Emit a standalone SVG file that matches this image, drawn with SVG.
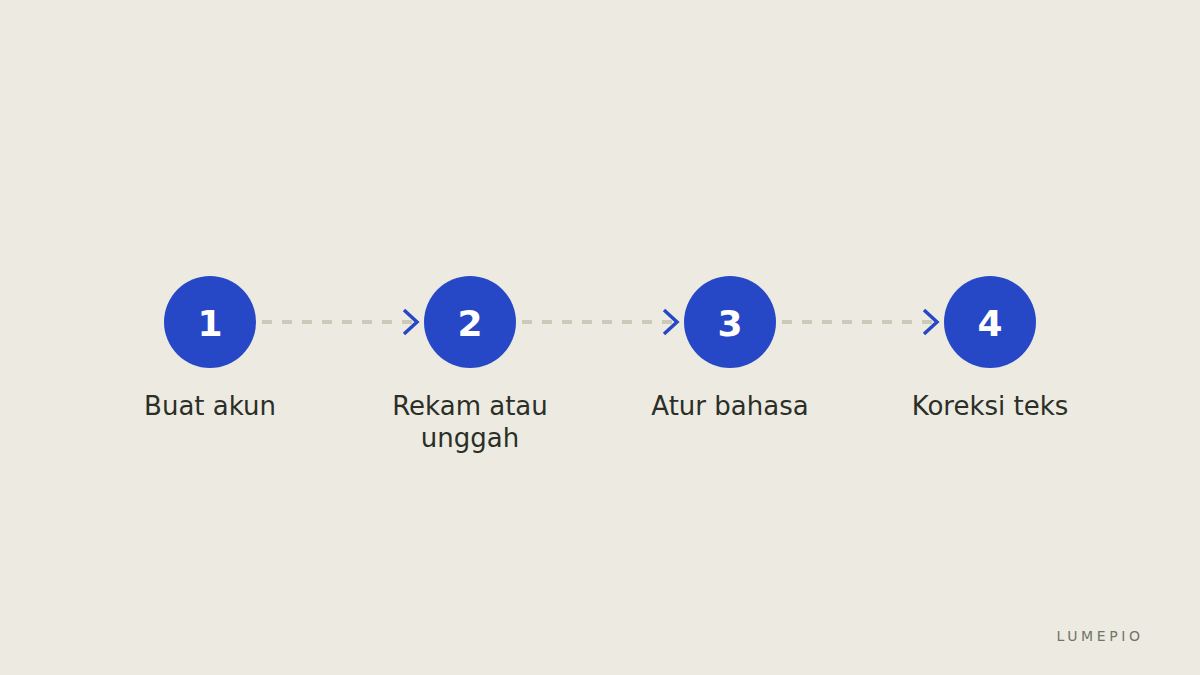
<svg xmlns="http://www.w3.org/2000/svg" width="1200" height="675" viewBox="0 0 1200 675">
<style>
.bg{fill:#edebe1}
.node circle{fill:#2748c6}
.num{font-family:"DejaVu Sans",sans-serif;font-weight:bold;font-size:36px;fill:#ffffff;text-anchor:middle}
.lbl{font-family:"DejaVu Sans",sans-serif;font-size:26px;fill:#2b2f28;text-anchor:middle}
.dash{stroke:#cdc9b9;stroke-width:4;stroke-dasharray:10 10;fill:none}
.chev{stroke:#2748c6;stroke-width:3.5;fill:none}
.brand{font-family:"DejaVu Sans",sans-serif;font-size:14px;fill:#6f7568;letter-spacing:3.6px;text-anchor:middle}
</style>
<rect class="bg" x="0" y="0" width="1200" height="675"/>
<g id="connectors">
<line class="dash" x1="262" y1="322" x2="416" y2="322"/>
<path class="chev" d="M404 310 L417 322 L404 334"/>
<line class="dash" x1="522" y1="322" x2="676" y2="322"/>
<path class="chev" d="M664 310 L677 322 L664 334"/>
<line class="dash" x1="782" y1="322" x2="936" y2="322"/>
<path class="chev" d="M924 310 L937 322 L924 334"/>
</g>
<g id="node1" class="node">
<circle cx="210" cy="322" r="46"/>
<text class="num" x="210" y="336">1</text>
<text class="lbl" x="210" y="415">Buat akun</text>
</g>
<g id="node2" class="node">
<circle cx="470" cy="322" r="46"/>
<text class="num" x="470" y="336">2</text>
<text class="lbl" x="470" y="415">Rekam atau</text>
<text class="lbl" x="470" y="447">unggah</text>
</g>
<g id="node3" class="node">
<circle cx="730" cy="322" r="46"/>
<text class="num" x="730" y="336">3</text>
<text class="lbl" x="730" y="415">Atur bahasa</text>
</g>
<g id="node4" class="node">
<circle cx="990" cy="322" r="46"/>
<text class="num" x="990" y="336">4</text>
<text class="lbl" x="990" y="415">Koreksi teks</text>
</g>
<text class="brand" x="1100" y="641">LUMEPIO</text>
</svg>
